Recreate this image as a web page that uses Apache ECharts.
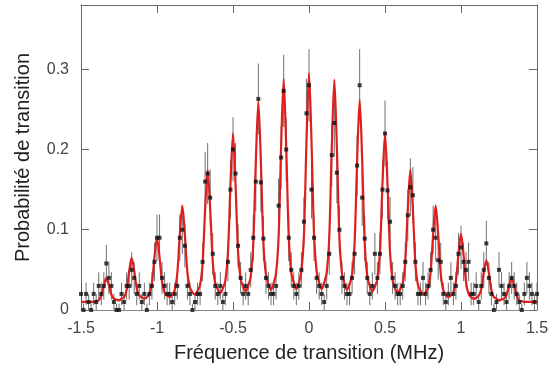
<!DOCTYPE html>
<html>
<head>
<meta charset="utf-8">
<script src="https://cdn.jsdelivr.net/npm/echarts@6/dist/echarts.min.js"></script>
<style>
  html, body { margin: 0; padding: 0; background: #fff; }
  #chart { width: 552px; height: 372px; }
</style>
</head>
<body>
<div id="chart"></div>
<script>
// sampling grid: first frequency and step (MHz)
var FREQ_START = -1.5;
var FREQ_STEP = 1 / 60;

// measured transition probability (x 1e-3)
var PROB = [
  20, 0, 20, 10, 0, 20, 10, 30, 20, 30,
  58, 40, 30, 10, 0, 0, 20, 10, 30, 30,
  50, 40, 20, 30, 10, 20, 0, 20, 30, 60,
  90, 90, 40, 30, 20, 20, 10, 20, 30, 90,
  100, 80, 30, 20, 0, 10, 20, 20, 60, 160,
  170, 140, 70, 30, 20, 30, 10, 20, 60, 150,
  200, 170, 80, 40, 20, 30, 20, 50, 90, 160,
  263, 159, 89, 40, 30, 20, 20, 30, 130, 190,
  273, 200, 90, 50, 30, 20, 30, 50, 110, 245,
  280, 150, 90, 40, 30, 20, 10, 30, 70, 193,
  233, 171, 100, 40, 30, 20, 20, 40, 70, 180,
  280, 140, 89, 40, 20, 30, 70, 40, 70, 150,
  220, 149, 110, 40, 30, 20, 20, 30, 60, 118,
  153, 143, 60, 20, 20, 40, 20, 30, 50, 100,
  90, 62, 60, 20, 10, 20, 40, 20, 30, 70,
  78, 60, 50, 60, 20, 20, 30, 10, 30, 50,
  83, 40, 20, 0, 10, 50, 30, 20, 10, 30,
  40, 30, 20, 10, 0, 20, 40, 30, 20, 10,
  20
];

// error bar half length (x 1e-3)
var ERR = [
  14, 8, 14, 10, 8, 14, 10, 17, 14, 17,
  23, 20, 17, 10, 8, 8, 14, 10, 17, 17,
  22, 20, 14, 17, 10, 14, 8, 14, 17, 24,
  29, 29, 20, 17, 14, 14, 10, 14, 17, 29,
  30, 27, 17, 14, 8, 10, 14, 14, 24, 37,
  38, 35, 26, 17, 14, 17, 10, 14, 24, 36,
  40, 38, 27, 20, 14, 17, 14, 22, 29, 37,
  44, 37, 28, 20, 17, 14, 14, 17, 34, 39,
  45, 40, 29, 22, 17, 14, 17, 22, 31, 43,
  45, 36, 29, 20, 17, 14, 10, 17, 26, 39,
  42, 38, 30, 20, 17, 14, 14, 20, 26, 38,
  45, 35, 28, 20, 14, 17, 26, 20, 26, 36,
  41, 36, 31, 20, 17, 14, 14, 17, 24, 32,
  36, 35, 24, 14, 14, 20, 14, 17, 22, 30,
  29, 24, 24, 14, 10, 14, 20, 14, 17, 26,
  27, 24, 22, 24, 14, 14, 17, 10, 17, 22,
  28, 20, 14, 8, 10, 22, 17, 14, 10, 17,
  20, 17, 14, 10, 8, 14, 20, 17, 14, 10,
  14
];

// fitted curve (x 1e-3), same grid
var FIT = [
  10, 10, 10, 10, 10, 10, 11, 12, 18, 30,
  40, 31, 19, 14, 13, 12, 14, 16, 25, 48,
  65, 49, 27, 18, 16, 14, 16, 20, 33, 66,
  90, 66, 35, 22, 18, 16, 19, 25, 45, 94,
  130, 94, 47, 28, 22, 19, 24, 31, 58, 125,
  175, 126, 60, 33, 26, 21, 27, 37, 71, 156,
  220, 157, 72, 39, 29, 23, 30, 42, 82, 184,
  260, 185, 84, 44, 32, 25, 33, 46, 91, 204,
  288, 204, 92, 47, 34, 26, 34, 48, 93, 209,
  295, 209, 93, 48, 34, 26, 34, 47, 91, 203,
  287, 203, 91, 46, 33, 25, 32, 44, 84, 186,
  262, 186, 83, 42, 30, 23, 29, 39, 72, 157,
  220, 156, 71, 37, 27, 21, 26, 33, 60, 126,
  175, 125, 58, 31, 24, 19, 22, 28, 47, 94,
  130, 94, 45, 25, 19, 16, 18, 22, 36, 70,
  95, 69, 34, 20, 16, 14, 15, 18, 26, 47,
  62, 46, 25, 16, 14, 12, 13, 14, 19, 31,
  40, 30, 18, 12, 11, 10, 10, 10, 10, 10,
  10
];

var pts = [], bars = [], fit = [];
for (var i = 0; i < PROB.length; i++) {
  var f = FREQ_START + i * FREQ_STEP;
  var p = PROB[i] / 1000, e = ERR[i] / 1000;
  pts.push([f, p]);
  bars.push([f, p - e, p + e]);
  fit.push([f, FIT[i] / 1000]);
}

var chart = echarts.init(document.getElementById('chart'));
var lineCol = '#666';
var font = 'Liberation Sans';

function frameAxis(extra) {
  var ax = {
    type: 'value',
    axisLine: { show: true, onZero: false, lineStyle: { color: lineCol } },
    axisTick: { show: true, inside: true, length: 8, lineStyle: { color: lineCol } },
    axisLabel: { show: false },
    splitLine: { show: false }
  };
  for (var k in extra) ax[k] = extra[k];
  return ax;
}

var option = {
  animation: false,
  grid: { left: 81, right: 15, top: 5, bottom: 62 },
  xAxis: [
    frameAxis({
      min: -1.5, max: 1.5, interval: 0.5,
      name: 'Fréquence de transition (MHz)',
      nameLocation: 'middle', nameGap: 33,
      nameTextStyle: { fontFamily: font, fontSize: 20, color: '#222' },
      axisLine: { show: true, onZero: false, lineStyle: { color: '#888' } },
      axisLabel: { margin: 11, fontFamily: font, fontSize: 16, color: '#444' }
    }),
    frameAxis({ position: 'top', min: -1.5, max: 1.5, interval: 0.5 })
  ],
  yAxis: [
    frameAxis({
      min: 0, max: 0.38, interval: 0.1,
      name: 'Probabilité de transition',
      nameLocation: 'middle', nameGap: 48,
      nameTextStyle: { fontFamily: font, fontSize: 20, color: '#222' },
      axisLabel: { margin: 12, showMaxLabel: false, fontFamily: font, fontSize: 16, color: '#444' }
    }),
    frameAxis({ position: 'right', min: 0, max: 0.38, interval: 0.1 })
  ],
  series: [{
    type: 'custom',
    clip: true,
    z: 1,
    renderItem: function (params, api) {
      var a = api.coord([api.value(0), api.value(1)]);
      var b = api.coord([api.value(0), api.value(2)]);
      return {
        type: 'line',
        shape: { x1: a[0], y1: a[1], x2: b[0], y2: b[1] },
        style: { stroke: '#333', lineWidth: 1, opacity: 0.7 }
      };
    },
    encode: { x: 0, y: [1, 2] },
    data: bars
  }, {
    type: 'line',
    z: 2,
    data: fit,
    showSymbol: false,
    smooth: 0.3,
    lineStyle: { color: '#dd1f1f', width: 2.2 }
  }, {
    type: 'scatter',
    z: 3,
    data: pts,
    symbol: 'rect',
    symbolSize: [4, 4],
    itemStyle: { color: '#111' }
  }]
};
chart.setOption(option);
</script>
</body>
</html>
